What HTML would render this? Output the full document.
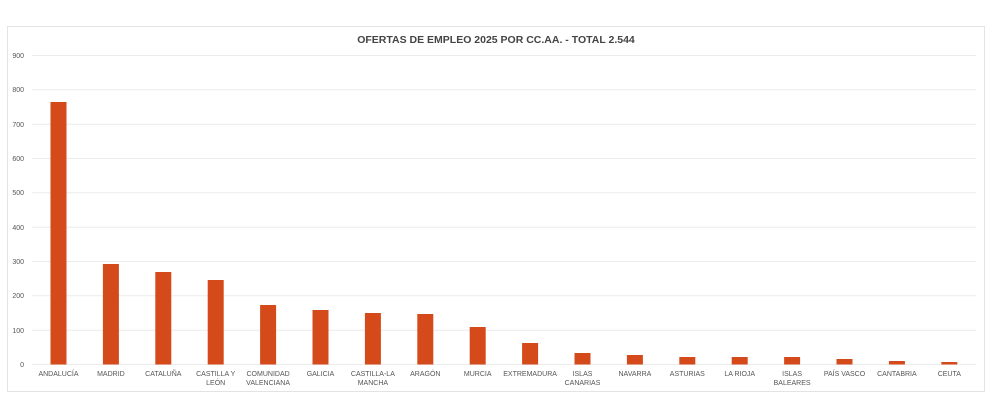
<!DOCTYPE html>
<html><head><meta charset="utf-8"><style>
body{margin:0;background:#fff;}
svg{display:block;font-family:"Liberation Sans",sans-serif;}
</style></head><body>
<svg width="993" height="409" viewBox="0 0 993 409" xmlns="http://www.w3.org/2000/svg">
<rect x="7.5" y="26.5" width="977" height="365" fill="#fff" stroke="#e3e3e3"/>
<text x="496" y="43" text-anchor="middle" font-size="10.5" font-weight="bold" fill="#444">OFERTAS DE EMPLEO 2025 POR CC.AA. - TOTAL 2.544</text>
<g stroke="#ececec" stroke-width="1">
<line x1="32" x2="976" y1="55.5" y2="55.5"/><line x1="32" x2="976" y1="89.8" y2="89.8"/><line x1="32" x2="976" y1="124.2" y2="124.2"/><line x1="32" x2="976" y1="158.5" y2="158.5"/><line x1="32" x2="976" y1="192.8" y2="192.8"/><line x1="32" x2="976" y1="227.2" y2="227.2"/><line x1="32" x2="976" y1="261.5" y2="261.5"/><line x1="32" x2="976" y1="295.8" y2="295.8"/><line x1="32" x2="976" y1="330.2" y2="330.2"/><line x1="32" x2="976" y1="364.5" y2="364.5"/>
</g>
<g font-size="7" fill="#555" text-anchor="end">
<text x="24" y="58">900</text><text x="24" y="92">800</text><text x="24" y="127">700</text><text x="24" y="161">600</text><text x="24" y="195">500</text><text x="24" y="230">400</text><text x="24" y="264">300</text><text x="24" y="298">200</text><text x="24" y="333">100</text><text x="24" y="367">0</text>
</g>
<g fill="#d54a1b">
<rect x="50.5" y="102" width="16" height="262.5"/>
<rect x="102.9" y="264" width="16" height="100.5"/>
<rect x="155.3" y="272" width="16" height="92.5"/>
<rect x="207.7" y="280" width="16" height="84.5"/>
<rect x="260.1" y="305" width="16" height="59.5"/>
<rect x="312.5" y="310" width="16" height="54.5"/>
<rect x="364.9" y="313" width="16" height="51.5"/>
<rect x="417.3" y="314" width="16" height="50.5"/>
<rect x="469.7" y="327" width="16" height="37.5"/>
<rect x="522.1" y="343" width="16" height="21.5"/>
<rect x="574.5" y="353" width="16" height="11.5"/>
<rect x="626.9" y="355" width="16" height="9.5"/>
<rect x="679.3" y="357" width="16" height="7.5"/>
<rect x="731.7" y="357" width="16" height="7.5"/>
<rect x="784.1" y="357" width="16" height="7.5"/>
<rect x="836.5" y="359" width="16" height="5.5"/>
<rect x="888.9" y="361" width="16" height="3.5"/>
<rect x="941.3" y="362" width="16" height="2.5"/>
</g>
<g font-size="7" fill="#555" text-anchor="middle">
<text x="58.5" y="376">ANDALUCÍA</text>
<text x="110.9" y="376">MADRID</text>
<text x="163.3" y="376">CATALUÑA</text>
<text x="215.7" y="376">CASTILLA Y</text><text x="215.7" y="385">LEÓN</text>
<text x="268.1" y="376">COMUNIDAD</text><text x="268.1" y="385">VALENCIANA</text>
<text x="320.5" y="376">GALICIA</text>
<text x="372.9" y="376">CASTILLA-LA</text><text x="372.9" y="385">MANCHA</text>
<text x="425.3" y="376">ARAGÓN</text>
<text x="477.7" y="376">MURCIA</text>
<text x="530.1" y="376">EXTREMADURA</text>
<text x="582.5" y="376">ISLAS</text><text x="582.5" y="385">CANARIAS</text>
<text x="634.9" y="376">NAVARRA</text>
<text x="687.3" y="376">ASTURIAS</text>
<text x="739.7" y="376">LA RIOJA</text>
<text x="792.1" y="376">ISLAS</text><text x="792.1" y="385">BALEARES</text>
<text x="844.5" y="376">PAÍS VASCO</text>
<text x="896.9" y="376">CANTABRIA</text>
<text x="949.3" y="376">CEUTA</text>
</g>
</svg>
</body></html>
